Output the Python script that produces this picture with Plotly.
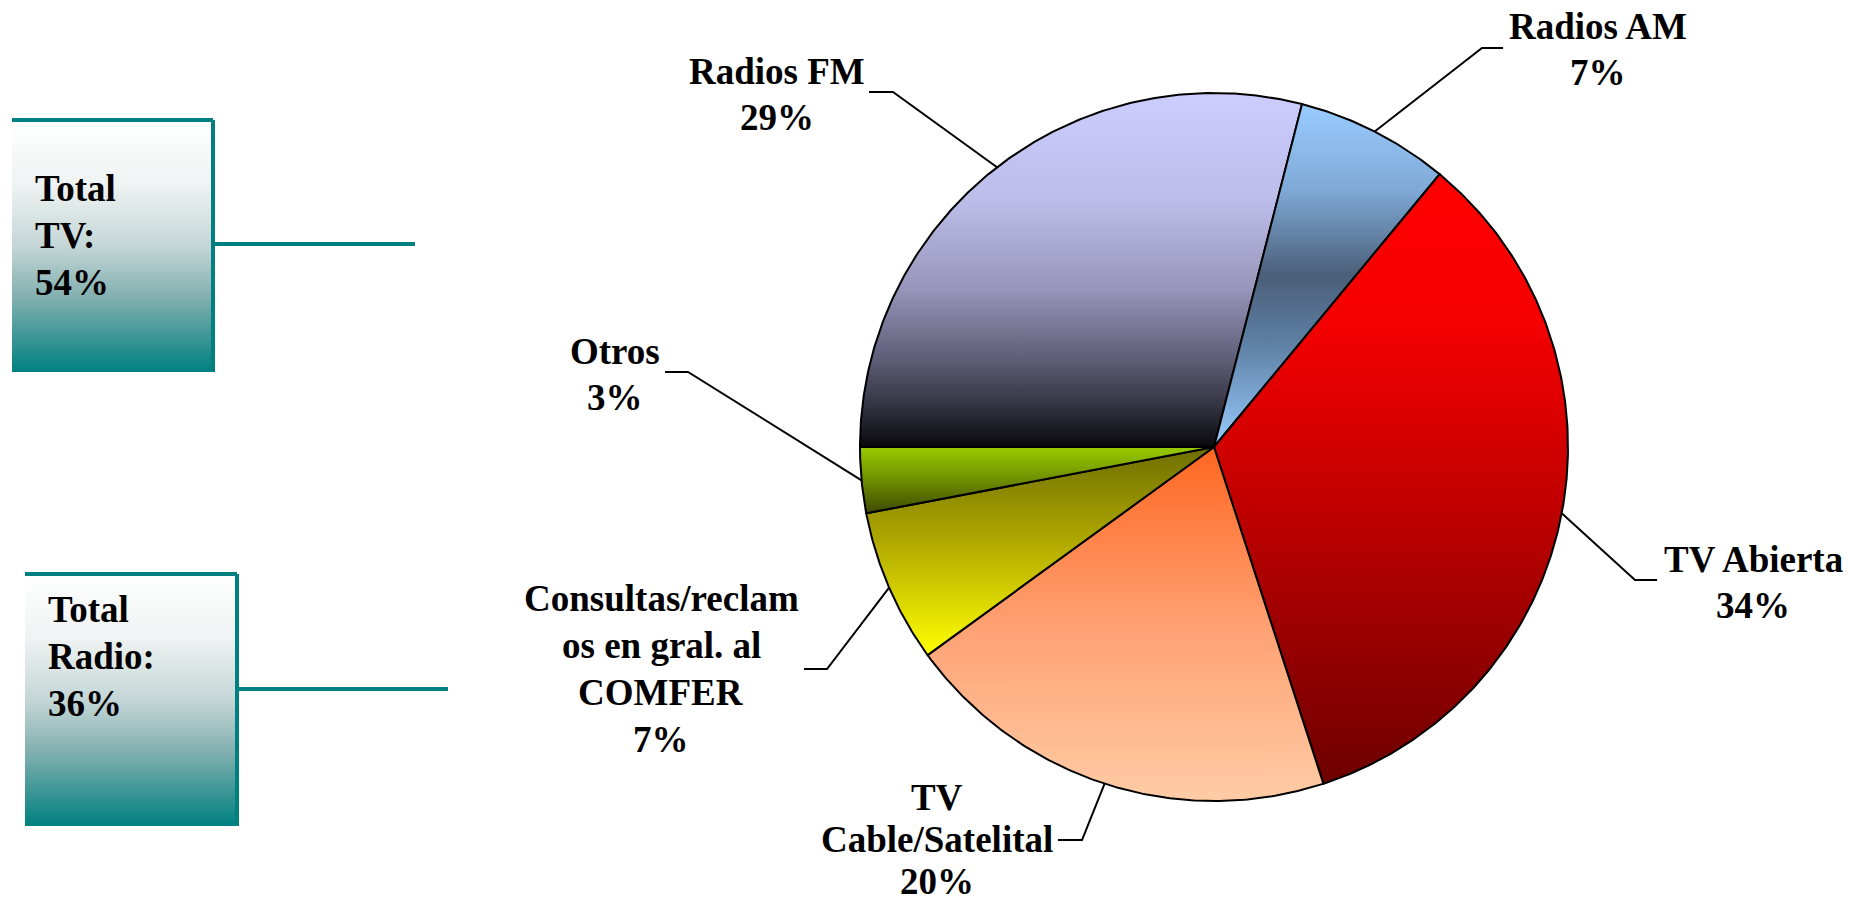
import numpy as np
import plotly.graph_objects as go

# ---------------- data ----------------
categories = ["Radios FM", "Radios AM", "TV Abierta", "TV<br>Cable/Satelital",
              "Consultas/reclam<br>os en gral. al<br>COMFER", "Otros"]
values = [29, 7, 34, 20, 7, 3]
pct_labels = ["29%", "7%", "34%", "20%", "7%", "3%"]
group_labels = ["Total<br>TV:<br>54%", "Total<br>Radio:<br>36%"]

# ---------------- styles / layout ----------------
W, H = 1849, 905
CX, CY, R = 1214, 447, 354
START = 270.0  # compass degrees (9 o'clock), clockwise

slice_scales = [
    [[0, "#CCCCFF"], [0.3, "#BDBDEA"], [0.55, "#9896BA"], [0.75, "#5E5E78"], [0.9, "#2E2E3A"], [1, "#08080C"]],
    [[0, "#99CCFF"], [0.25, "#7FA9D6"], [0.5, "#4A5F78"], [0.7, "#5E80A4"], [1, "#99CCFF"]],
    [[0, "#FF0000"], [0.25, "#F40000"], [0.5, "#C80000"], [1, "#6E0000"]],
    [[0, "#FF6620"], [0.5, "#FFA072"], [1, "#FFCCA6"]],
    [[0, "#6E6E00"], [0.45, "#B0A800"], [1, "#FFFF00"]],
    [[0, "#99CC00"], [0.5, "#6E8E00"], [1, "#3E4A00"]],
]

# label block centres, line spacing, and leader elbows (pixel positions)
label_pos = [(777, 94), (1598, 49), (1753, 582), (937, 839), (661, 669), (615, 374)]
label_spacing = [46, 46, 46, 42, 47, 46]
leader_elbow = [((869, 92), (893, 92)), ((1503, 48), (1482, 48)), ((1657, 580), (1635, 580)),
                ((1058, 840), (1082, 840)), ((804, 669), (827, 669)), ((665, 372), (688, 372))]

boxes = [dict(x0=12, x1=213, y0=120, y1=372, conn_y=244, conn_x=415, tx=33, ty=235),
         dict(x0=25, x1=237, y0=574, y1=826, conn_y=689, conn_x=448, tx=46, ty=656)]
BOX_SPACING = 47
TEAL = "#008080"
box_scale = [[0, "#FFFFFF"], [0.25, "#F0F3F3"], [0.5, "#C4D6D6"], [0.7, "#84B0B0"], [1, "#008080"]]

FONT = dict(family="Liberation Serif, Times New Roman, serif", size=37, color="black", weight="bold")

fig = go.Figure()


def add_text_block(lines, x, yc, spacing, xanchor):
    n = len(lines)
    for k, ln in enumerate(lines):
        fig.add_annotation(x=x, y=yc + (k - (n - 1) / 2) * spacing, xref="x", yref="y",
                           text=ln, showarrow=False, font=FONT,
                           xanchor=xanchor, yanchor="middle")


# ---------------- pie slices from values ----------------
total = float(sum(values))
angle = START
mids = []
for i, v in enumerate(values):
    span = 360.0 * v / total
    th = np.radians(np.linspace(angle, angle + span, max(8, int(span * 2))))
    xs = np.concatenate([[CX], CX + R * np.sin(th), [CX]])
    ys = np.concatenate([[CY], CY - R * np.cos(th), [CY]])
    fig.add_trace(go.Scatter(
        x=xs, y=ys, mode="lines", fill="toself",
        line=dict(color="black", width=2),
        fillgradient=dict(type="vertical", colorscale=slice_scales[i],
                          start=float(ys.min()), stop=float(ys.max())),
        hoverinfo="skip", showlegend=False))
    mids.append(angle + span / 2)
    angle += span

# ---------------- labels and leader lines ----------------
for i, (cat, pct) in enumerate(zip(categories, pct_labels)):
    m = np.radians(mids[i])
    ax_, ay_ = CX + R * np.sin(m), CY - R * np.cos(m)
    (ex0, ey0), (ex1, ey1) = leader_elbow[i]
    fig.add_trace(go.Scatter(x=[ex0, ex1, ax_], y=[ey0, ey1, ay_], mode="lines",
                             line=dict(color="black", width=2),
                             hoverinfo="skip", showlegend=False))
    lx, ly = label_pos[i]
    add_text_block(cat.split("<br>") + [pct], lx, ly, label_spacing[i], "center")

# ---------------- group boxes ----------------
for b, txt in zip(boxes, group_labels):
    fig.add_trace(go.Scatter(
        x=[b["x0"], b["x1"], b["x1"], b["x0"], b["x0"]],
        y=[b["y0"], b["y0"], b["y1"], b["y1"], b["y0"]],
        mode="lines", fill="toself", line=dict(width=0, color="rgba(0,0,0,0)"),
        fillgradient=dict(type="vertical", colorscale=box_scale, start=b["y0"], stop=b["y1"]),
        hoverinfo="skip", showlegend=False))
    fig.add_shape(type="line", x0=b["x0"], x1=b["x1"], y0=b["y0"], y1=b["y0"],
                  line=dict(color=TEAL, width=4))
    fig.add_shape(type="line", x0=b["x1"], x1=b["x1"], y0=b["y0"], y1=b["y1"],
                  line=dict(color=TEAL, width=4))
    fig.add_shape(type="line", x0=b["x1"], x1=b["conn_x"], y0=b["conn_y"], y1=b["conn_y"],
                  line=dict(color=TEAL, width=4))
    add_text_block(txt.split("<br>"), b["tx"], b["ty"], BOX_SPACING, "left")

fig.update_layout(
    width=W, height=H, margin=dict(l=0, r=0, t=0, b=0),
    paper_bgcolor="white", plot_bgcolor="white",
    xaxis=dict(range=[0, W], visible=False, fixedrange=True),
    yaxis=dict(range=[H, 0], visible=False, fixedrange=True),
    showlegend=False,
)

fig.write_html("out.html", config={"displayModeBar": False},
               post_script="document.body.style.margin='0';document.body.style.overflow='hidden';")
